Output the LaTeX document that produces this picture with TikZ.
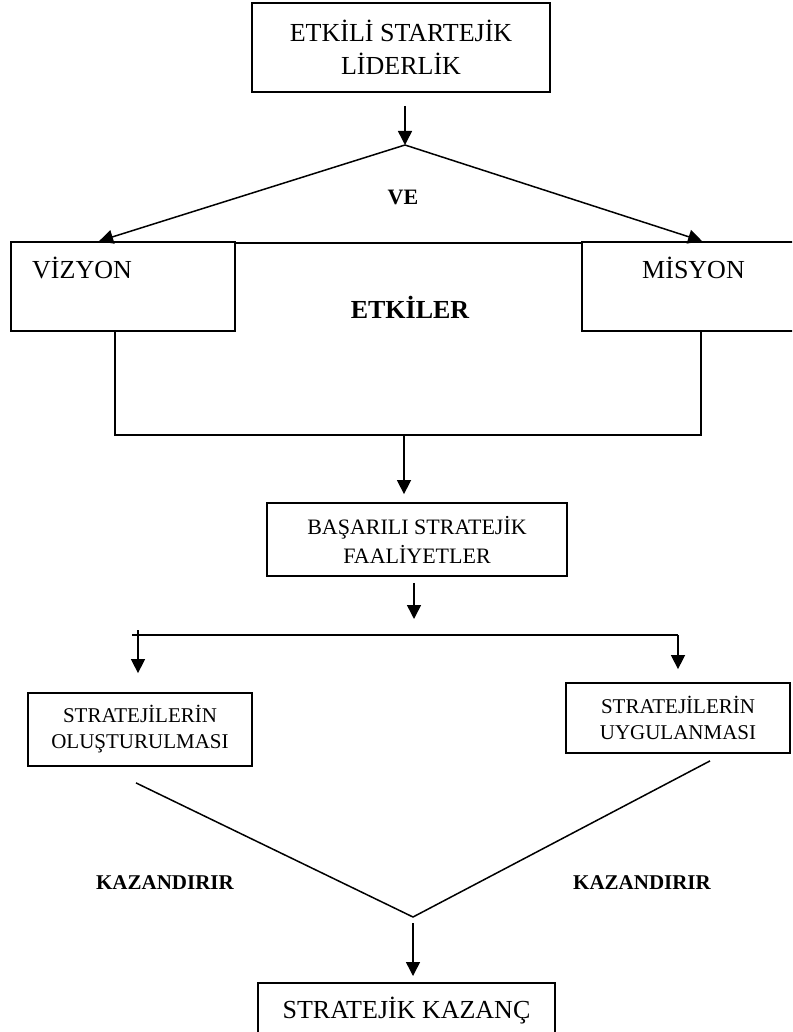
\documentclass[tikz,border=0pt]{standalone}
\usepackage{fontspec}
\setmainfont{Liberation Serif}
\usetikzlibrary{arrows.meta,positioning,calc}

\newcommand{\buyukyazi}{\fontsize{26}{33}\selectfont}
\newcommand{\ortayazi}{\fontsize{21}{26}\selectfont}
\tikzset{
  kutu/.style={draw, line width=1.8pt, align=center, inner sep=0pt},
  yazi/.style={inner sep=0pt, anchor=base},
  cizgi/.style={line width=1.5pt},
  ok/.style={cizgi, -{Triangle[length=14pt,width=14pt]}},
}

\begin{document}
\begin{tikzpicture}[x=1pt, y=-1pt]
  \clip (0,0) rectangle (792,1032);

  % liderlik
  \node[kutu, minimum width=298pt, minimum height=89pt, font=\buyukyazi] (lider) at (401,47.5) {ETKİLİ STARTEJİK\\LİDERLİK};
  \coordinate (tepe) at (405,145);
  \draw[ok, shorten <=13pt] (lider.south -| tepe) -- (tepe);

  % vizyon ve misyon
  \node[kutu, minimum width=224pt, minimum height=89pt] (vizyon) at (123,286.5) {};
  \node[kutu, minimum width=220pt, minimum height=89pt] (misyon) at (692,286.5) {};
  \node[yazi, anchor=base west, font=\buyukyazi] (vizyonyazi) at (32,278) {VİZYON};
  \node[yazi, font=\buyukyazi] (misyonyazi) at (693.5,278) {MİSYON};
  \draw[ok] (tepe) -- ([xshift=89pt]vizyon.north west);
  \draw[ok] (tepe) -- ([xshift=121pt]misyon.north west);
  \node[font=\bfseries\fontsize{22}{26}\selectfont] (ve) at (403,197) {VE};
  \draw[cizgi] ([yshift=-2pt]vizyon.north east) -- ([yshift=-2pt]misyon.north west);
  \node[font=\bfseries\buyukyazi] (etkiler) at (410,307) {ETKİLER};

  % alt cerceve
  \coordinate (solalt) at (115,435);
  \coordinate (sagalt) at (701,435);
  \coordinate (orta) at (404,435);
  \draw[cizgi] (solalt |- vizyon.south) -- (solalt) -- (sagalt) -- (sagalt |- misyon.south);

  % basarili faaliyetler
  \node[kutu, minimum width=300pt, minimum height=73pt, font=\fontsize{22}{29}\selectfont] (basari) at (417,539.5) {BAŞARILI STRATEJİK\\FAALİYETLER};
  \draw[ok, shorten >=8pt] (orta) -- (orta |- basari.north);
  \coordinate (ayir) at (414,635);
  \draw[ok, shorten <=6pt, shorten >=16pt] (basari.south -| ayir) -- (ayir);

  % iki kol
  \coordinate (sol) at (138,635);
  \coordinate (sag) at (678,635);
  \draw[cizgi] ([xshift=-6pt]sol) -- (sag);
  \draw[cizgi] ([yshift=5pt]sol) -- (sol);
  \node[kutu, minimum width=224pt, minimum height=73pt, font=\ortayazi] (olustur) at (140,729.5) {STRATEJİLERİN\\OLUŞTURULMASI};
  \node[kutu, minimum width=224pt, minimum height=70pt, font=\ortayazi] (uygula) at (678,718) {STRATEJİLERİN\\UYGULANMASI};
  \draw[ok, shorten >=19pt] (sol) -- (sol |- olustur.north);
  \draw[ok, shorten >=13pt] (sag) -- (uygula.north);

  % kazandirir
  \coordinate (vuc) at (413,917);
  \draw[cizgi] ([xshift=-4pt, yshift=-16pt]olustur.south) -- (vuc) -- ([xshift=32pt, yshift=-7pt]uygula.south);
  \node[font=\bfseries\ortayazi] (kazsol) at (165,883) {KAZANDIRIR};
  \node[font=\bfseries\ortayazi] (kazsag) at (642,883) {KAZANDIRIR};

  % stratejik kazanc
  \node[kutu, minimum width=297pt, minimum height=56pt, anchor=north, font=\buyukyazi] (kazanc) at (406.5,982) {STRATEJİK KAZANÇ};
  \draw[ok, shorten <=6pt, shorten >=6pt] (vuc) -- (vuc |- kazanc.north);
\end{tikzpicture}
\end{document}
